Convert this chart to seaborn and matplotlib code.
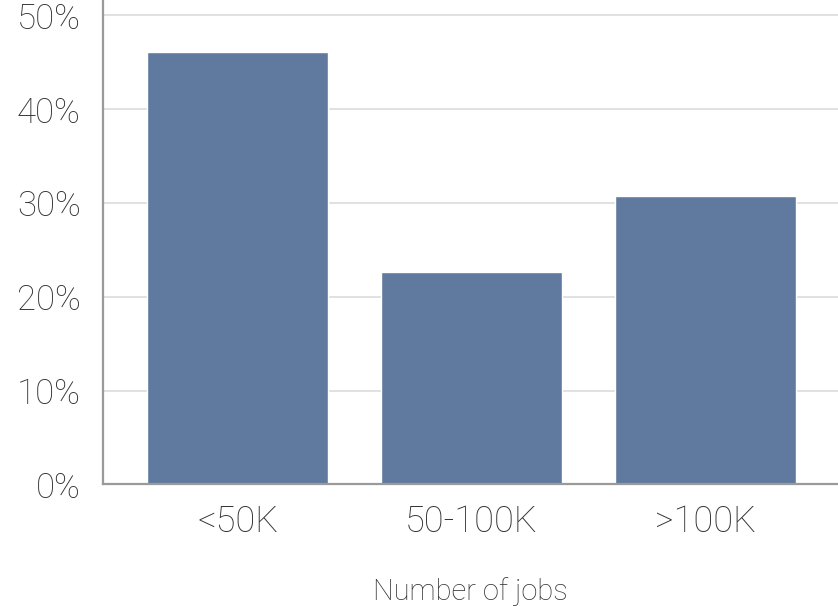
import pandas as pd
import matplotlib
matplotlib.use("Agg")
import matplotlib.pyplot as plt
import seaborn as sns
from matplotlib.ticker import PercentFormatter

# values (share of companies, %)
categories = ["<50K", "50-100K", ">100K"]
shares = [46.1, 22.7, 30.8]
y_ticks = [0, 10, 20, 30, 40, 50]

df = pd.DataFrame({"jobs": categories, "share": shares})

sns.set_theme(style="whitegrid")
plt.rcParams["font.family"] = ["Roboto", "DejaVu Sans"]
plt.rcParams["font.weight"] = "light"
plt.rcParams["axes.labelweight"] = "light"

fig = plt.figure(figsize=(8.38, 6.06), dpi=100)
ax = fig.add_axes([0.123, 0.2005, 0.877, 0.7995])

sns.barplot(data=df, x="jobs", y="share", color="#5f7a9e", saturation=1,
            width=0.775, ax=ax, zorder=2)

ax.set_xlim(-0.577, 2.569)
ax.set_ylim(0, 51.65)
ax.set_yticks(y_ticks)
ax.yaxis.set_major_formatter(PercentFormatter(decimals=0))

ax.grid(axis="y", color="#dcdcdc", linewidth=1.2, zorder=0)
ax.grid(axis="x", visible=False)
for side in ["top", "right"]:
    ax.spines[side].set_visible(False)
for side in ["left", "bottom"]:
    ax.spines[side].set_color("#9a9a9a")
    ax.spines[side].set_linewidth(1.6)
    ax.spines[side].set_zorder(3)

ax.tick_params(axis="y", length=0, pad=16, labelsize=25, labelcolor="#333333")
ax.tick_params(axis="x", length=0, pad=14, labelsize=26, labelcolor="#333333")
ax.set_ylabel("")
ax.set_xlabel("Number of jobs", fontsize=21, color="#333333", labelpad=27)

fig.savefig("out.png", dpi=100)
